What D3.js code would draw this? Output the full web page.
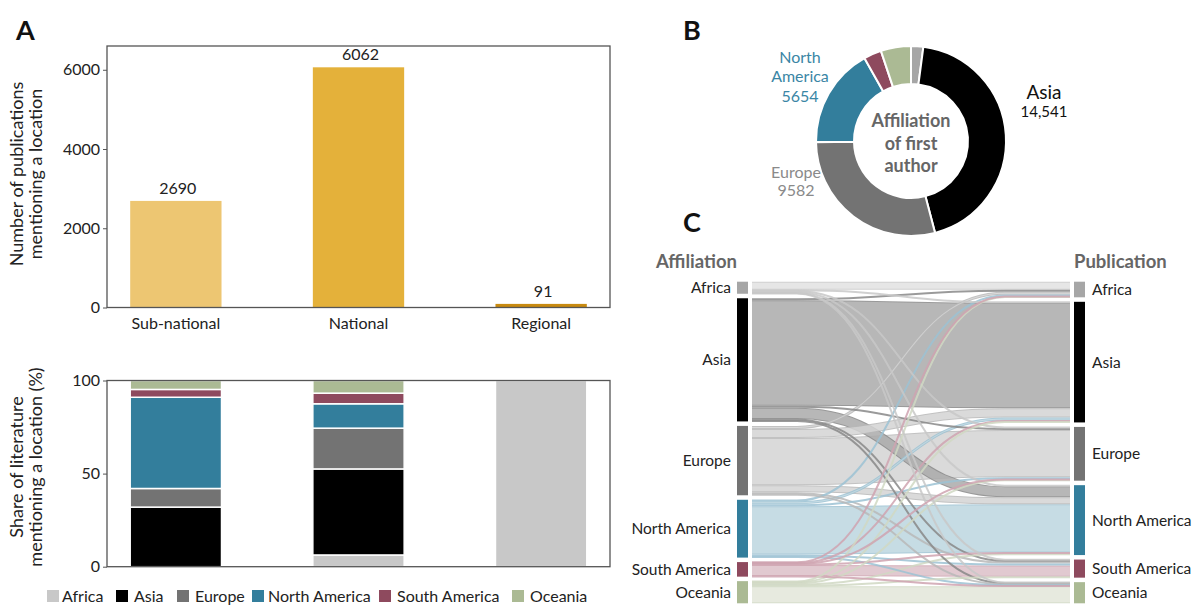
<!DOCTYPE html>
<html><head><meta charset="utf-8">
<script src="https://cdn.jsdelivr.net/npm/d3@7"></script>
<style>body{margin:0;background:#fff;} text{font-family:Lato, "Open Sans", sans-serif;}</style>
</head><body><svg id="c" width="1196" height="606"></svg>
<script>
// ---------- DATA ----------
const regions = ["Africa", "Asia", "Europe", "North America", "South America", "Oceania"];
const regionColors = ["#c8c8c8", "#000000", "#737373", "#337e9c", "#8e4a5e", "#abba94"];
const scaleCats = ["Sub-national", "National", "Regional"];
const scaleCounts = [2690, 6062, 91];
const barColors = ["#edc672", "#e4b13a", "#c88a10"];
const countTicks = [0, 2000, 4000, 6000];
const shareTicks = [0, 50, 100];
// share of literature (%) by region of study, per scale
const shareSubNational = [0, 32, 10, 49, 4.2, 4.8];
const shareNational = [6.3, 46.2, 21.9, 13.1, 5.7, 6.8];
const shareRegional = [100, 0, 0, 0, 0, 0];
// donut: affiliation of first author
const donutValues = [690, 14541, 9582, 5654, 1000, 1700];
const donutColors = ["#a6a6a6", "#000000", "#737373", "#337e9c", "#8e4a5e", "#abba94"];
// sankey flows: rows = affiliation, columns = publication location
const flows = [
  [200, 25, 25, 25, 12, 13],
  [50, 2625, 50, 275, 38, 25],
  [75, 225, 1175, 175, 50, 25],
  [38, 75, 50, 1200, 50, 25],
  [12, 25, 12, 25, 275, 13],
  [13, 25, 25, 38, 25, 425]
];
const nodeColors = ["#a6a6a6", "#000000", "#737373", "#337e9c", "#8e4a5e", "#abba94"];
const linkFill = ["#e2e2e2", "#ababab", "#d4d4d4", "#bdd6e0", "#dcc0c8", "#e3e7da"];
const linkEdge = ["#c8c8c8", "#888888", "#b8b8b8", "#9cc2d3", "#cfa3b0", "#d0d8c3"];

// ---------- SETUP ----------
const svg = d3.select("#c");
const TXT = "#222";

// Panel letters
svg.append("text").attr("x", 16).attr("y", 40).attr("font-size", 27).attr("font-weight", 700).attr("fill", "#111").text("A");
svg.append("text").attr("x", 683).attr("y", 40).attr("font-size", 27).attr("font-weight", 700).attr("fill", "#111").text("B");
svg.append("text").attr("x", 683).attr("y", 232).attr("font-size", 27).attr("font-weight", 700).attr("fill", "#111").text("C");

// ---------- PANEL A TOP ----------
const boxL = 107, boxR = 610;
const x = d3.scaleBand().domain(scaleCats).range([boxL, boxR]).paddingInner(0.5).paddingOuter(0.127);
const yTop = d3.scaleLinear().domain([0, 6600]).range([307.5, 46]);
const gTop = svg.append("g");
gTop.selectAll("rect.bar").data(scaleCats).join("rect")
  .attr("x", d => x(d)).attr("width", x.bandwidth())
  .attr("y", (d, i) => yTop(scaleCounts[i])).attr("height", (d, i) => yTop(0) - yTop(scaleCounts[i]))
  .attr("fill", (d, i) => barColors[i]);
gTop.selectAll("text.val").data(scaleCats).join("text")
  .attr("x", d => x(d) + x.bandwidth() / 2 + 2).attr("y", (d, i) => yTop(scaleCounts[i]) - 7)
  .attr("text-anchor", "middle").attr("font-size", 16).attr("fill", TXT).text((d, i) => scaleCounts[i]);
gTop.append("rect").attr("x", boxL).attr("y", 46).attr("width", boxR - boxL).attr("height", 307.5 - 46)
  .attr("fill", "none").attr("stroke", "#555").attr("stroke-width", 1.3);
const axTop = gTop.append("g").attr("transform", `translate(${boxL},0)`)
  .call(d3.axisLeft(yTop).tickValues(countTicks).tickFormat(d3.format("d")).tickSize(4).tickPadding(3));
axTop.select(".domain").remove();
axTop.selectAll("text").attr("font-size", 16).attr("fill", TXT).attr("font-family", "Lato");
axTop.selectAll("line").attr("stroke", "#555");
const axXTop = gTop.append("g").attr("transform", `translate(0,307.5)`)
  .call(d3.axisBottom(x).tickSize(0).tickPadding(10));
axXTop.select(".domain").remove();
axXTop.selectAll("text").attr("font-size", 16).attr("fill", TXT).attr("font-family", "Lato");
const tTop = svg.append("text").attr("transform", "translate(23,174) rotate(-90)").attr("text-anchor", "middle")
  .attr("font-size", 18).attr("fill", TXT);
tTop.append("tspan").attr("x", 0).attr("dy", 0).text("Number of publications");
tTop.append("tspan").attr("x", 0).attr("dy", 19).text("mentioning a location");

// ---------- PANEL A BOTTOM ----------
const yBot = d3.scaleLinear().domain([0, 100]).range([566.7, 380.5]);
const shares = [shareSubNational, shareNational, shareRegional];
const gBot = svg.append("g");
scaleCats.forEach((cat, ci) => {
  let cum = 0;
  shares[ci].forEach((v, ri) => {
    if (v <= 0) return;
    const y0 = yBot(cum), y1 = yBot(cum + v);
    gBot.append("rect").attr("x", x(cat)).attr("width", x.bandwidth())
      .attr("y", y1).attr("height", y0 - y1)
      .attr("fill", regionColors[ri]).attr("stroke", "#fff").attr("stroke-width", 1.5);
    cum += v;
  });
});
gBot.append("rect").attr("x", boxL).attr("y", 380.5).attr("width", boxR - boxL).attr("height", 566.7 - 380.5)
  .attr("fill", "none").attr("stroke", "#555").attr("stroke-width", 1.3);
const axBot = gBot.append("g").attr("transform", `translate(${boxL},0)`)
  .call(d3.axisLeft(yBot).tickValues(shareTicks).tickSize(4).tickPadding(3));
axBot.select(".domain").remove();
axBot.selectAll("text").attr("font-size", 16).attr("fill", TXT).attr("font-family", "Lato");
axBot.selectAll("line").attr("stroke", "#555");
const tBot = svg.append("text").attr("transform", "translate(23,467) rotate(-90)").attr("text-anchor", "middle")
  .attr("font-size", 18).attr("fill", TXT);
tBot.append("tspan").attr("x", 0).attr("dy", 0).text("Share of literature");
tBot.append("tspan").attr("x", 0).attr("dy", 19).text("mentioning a location (%)");

// legend
const legSq = [47, 116, 177, 252, 379, 512];
const legTx = [62, 134, 195, 268, 397, 530];
const leg = svg.append("g");
regions.forEach((r, i) => {
  leg.append("rect").attr("x", legSq[i]).attr("y", 590).attr("width", 12).attr("height", 12).attr("fill", regionColors[i]);
  leg.append("text").attr("x", legTx[i]).attr("y", 601.5).attr("font-size", 16).attr("fill", TXT).text(r);
});

// ---------- PANEL B DONUT ----------
const cx = 911, cy = 141;
const pie = d3.pie().sort(null).value(d => d)(donutValues);
const arc = d3.arc().innerRadius(57).outerRadius(95);
const gD = svg.append("g").attr("transform", `translate(${cx},${cy})`);
gD.selectAll("path").data(pie).join("path").attr("d", arc)
  .attr("fill", (d, i) => donutColors[i]).attr("stroke", "#fff").attr("stroke-width", 2);
const ctr = gD.append("text").attr("text-anchor", "middle").attr("font-size", 18).attr("font-weight", 700).attr("fill", "#666");
["Affiliation", "of first", "author"].forEach((s, i) => ctr.append("tspan").attr("x", 0).attr("y", -14 + i * 22.5).text(s));
svg.append("text").attr("x", 1044).attr("y", 99).attr("text-anchor", "middle").attr("font-size", 19).attr("fill", "#111").text(regions[1]);
svg.append("text").attr("x", 1044).attr("y", 117).attr("text-anchor", "middle").attr("font-size", 15).attr("fill", "#111").text(d3.format(",")(donutValues[1]));
const naL = svg.append("text").attr("text-anchor", "middle").attr("font-size", 16).attr("fill", "#3a86a5").attr("font-family", "Liberation Sans, Arial");
["North", "America", String(donutValues[3])].forEach((s, i) => naL.append("tspan").attr("x", 800).attr("y", 63 + i * 19.3).text(s));
const euL = svg.append("text").attr("text-anchor", "middle").attr("font-size", 16).attr("fill", "#8a8a8a").attr("font-family", "Liberation Sans, Arial");
["Europe", String(donutValues[2])].forEach((s, i) => euL.append("tspan").attr("x", 796).attr("y", 178 + i * 18).text(s));

// ---------- PANEL C SANKEY ----------
const sTop = 281.7, sBot = 603.3, pad = 4.5;
const nNodes = regions.length;
const total = d3.sum(flows.flat());
const vScale = d3.scaleLinear().domain([0, total]).range([0, (sBot - sTop) - pad * (nNodes - 1)]);
const leftTotals = flows.map(r => d3.sum(r));
const rightTotals = regions.map((_, j) => d3.sum(flows, r => r[j]));
function layoutNodes(tots) {
  let y = sTop; return tots.map(t => { const n = { y0: y, y1: y + vScale(t) }; y = n.y1 + pad; return n; });
}
const leftNodes = layoutNodes(leftTotals);
const rightNodes = layoutNodes(rightTotals);
const nodeW = 11, lx = 737, rx = 1074, linkX0 = 752, linkX1 = 1070;
// links
const links = [];
const srcOff = leftNodes.map(n => n.y0);
for (let i = 0; i < nNodes; i++) for (let j = 0; j < nNodes; j++) {
  const w = vScale(flows[i][j]);
  links.push({ s: i, t: j, value: flows[i][j], w, ys: srcOff[i] + w / 2 }); srcOff[i] += w;
}
const tgtOff = rightNodes.map(n => n.y0);
for (let j = 0; j < nNodes; j++) for (let i = 0; i < nNodes; i++) {
  const l = links.find(k => k.s === i && k.t === j); l.yt = tgtOff[j] + l.w / 2; tgtOff[j] += l.w;
}
function linkPath(l) {
  const xa = linkX0 + 45, xb = linkX1 - 65, xm = (xa + xb) / 2;
  return `M${linkX0},${l.ys}H${xa}C${xm},${l.ys} ${xm},${l.yt} ${xb},${l.yt}H${linkX1}`;
}
const gL = svg.append("g").attr("fill", "none");
links.slice().sort((a, b) => b.value - a.value).forEach(l => {
  const g = gL.append("g").attr("opacity", 0.85);
  g.append("path").attr("d", linkPath(l)).attr("stroke", linkEdge[l.s]).attr("stroke-width", Math.max(l.w, 2));
  if (l.w > 3) g.append("path").attr("d", linkPath(l)).attr("stroke", linkFill[l.s]).attr("stroke-width", l.w - 2);
});
// nodes
svg.append("g").selectAll("rect").data(leftNodes).join("rect")
  .attr("x", lx).attr("width", nodeW).attr("y", d => d.y0).attr("height", d => d.y1 - d.y0).attr("fill", (d, i) => nodeColors[i]);
svg.append("g").selectAll("rect").data(rightNodes).join("rect")
  .attr("x", rx).attr("width", nodeW).attr("y", d => d.y0).attr("height", d => d.y1 - d.y0).attr("fill", (d, i) => nodeColors[i]);
svg.append("g").selectAll("text").data(leftNodes).join("text")
  .attr("x", lx - 6).attr("y", d => (d.y0 + d.y1) / 2).attr("dy", "0.35em").attr("text-anchor", "end")
  .attr("font-size", 15.5).attr("fill", TXT).text((d, i) => regions[i]);
svg.append("g").selectAll("text").data(rightNodes).join("text")
  .attr("x", rx + nodeW + 7).attr("y", d => (d.y0 + d.y1) / 2).attr("dy", "0.35em")
  .attr("font-size", 15.5).attr("fill", TXT).text((d, i) => regions[i]);
svg.append("text").attr("x", 737).attr("y", 268).attr("text-anchor", "end").attr("font-size", 18.5).attr("font-weight", 700).attr("fill", "#666").text("Affiliation");
svg.append("text").attr("x", 1074).attr("y", 268).attr("font-size", 18.5).attr("font-weight", 700).attr("fill", "#666").text("Publication");
</script></body></html>
